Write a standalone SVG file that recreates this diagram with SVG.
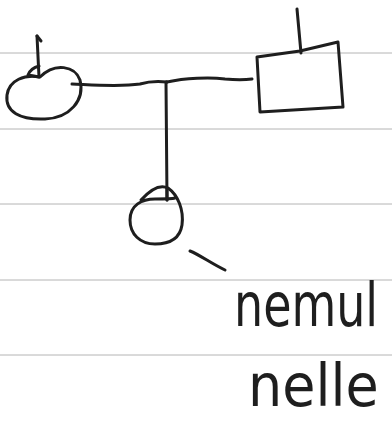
<svg xmlns="http://www.w3.org/2000/svg" width="392" height="421" viewBox="0 0 392 421">
<style>
.rule{stroke:#b4b4b4;stroke-width:1;fill:none}
.ink{stroke:#1e1e1e;stroke-width:3;fill:none;stroke-linecap:round;stroke-linejoin:round}
.hand{font-family:"DejaVu Sans","Liberation Sans",sans-serif;fill:#1e1e1e}
</style>
<rect width="392" height="421" fill="#ffffff"/>
<g id="paper">
<line class="rule" x1="0" y1="53" x2="392" y2="53"/>
<line class="rule" x1="0" y1="129" x2="392" y2="129"/>
<line class="rule" x1="0" y1="204" x2="392" y2="204"/>
<line class="rule" x1="0" y1="280" x2="392" y2="280"/>
<line class="rule" x1="0" y1="355" x2="392" y2="355"/>
</g>
<g id="connectors">
<path class="ink" d="M72 84 C95 85 120 87 140 84 C150 81 158 81 167 82"/>
<path class="ink" d="M167 82 C185 78 210 77 225 79 C235 80 245 80 252 79"/>
<path class="ink" d="M166 82 L167 200"/>
<path class="ink" d="M190 251 C200 255 212 264 225 270"/>
</g>
<g id="node-left">
<path class="ink" d="M40 77 C55 62 75 66 80 80 C85 100 70 118 45 119 C20 120 5 112 7 95 C9 80 25 74 40 77 Z"/>
<path class="ink" d="M37 36 L39 77 L28 75 C30 70 35 67 39 66"/>
<path class="ink" d="M37 36 L41 41"/>
</g>
<g id="node-right">
<path class="ink" d="M257 57 L300 51 L338 42 L343 107 L260 112 Z"/>
<path class="ink" d="M297 9 L301 53"/>
</g>
<g id="node-child">
<path class="ink" d="M141 200 C150 190 160 184 168 188 C178 195 184 210 182 225 C180 238 170 244 155 244 C140 244 130 234 130 220 C130 205 142 199 155 199 C165 199 172 199 175 198"/>
<path class="ink" d="M167 188 L167 200"/>
</g>
<g id="label">
<text class="hand" transform="translate(234,326) scale(1,1.3)" x="0" y="0" font-size="46">nemul</text>
<text class="hand" transform="translate(248,406) scale(1,1.1)" x="0" y="0" font-size="54">nelle</text>
</g>
</svg>
